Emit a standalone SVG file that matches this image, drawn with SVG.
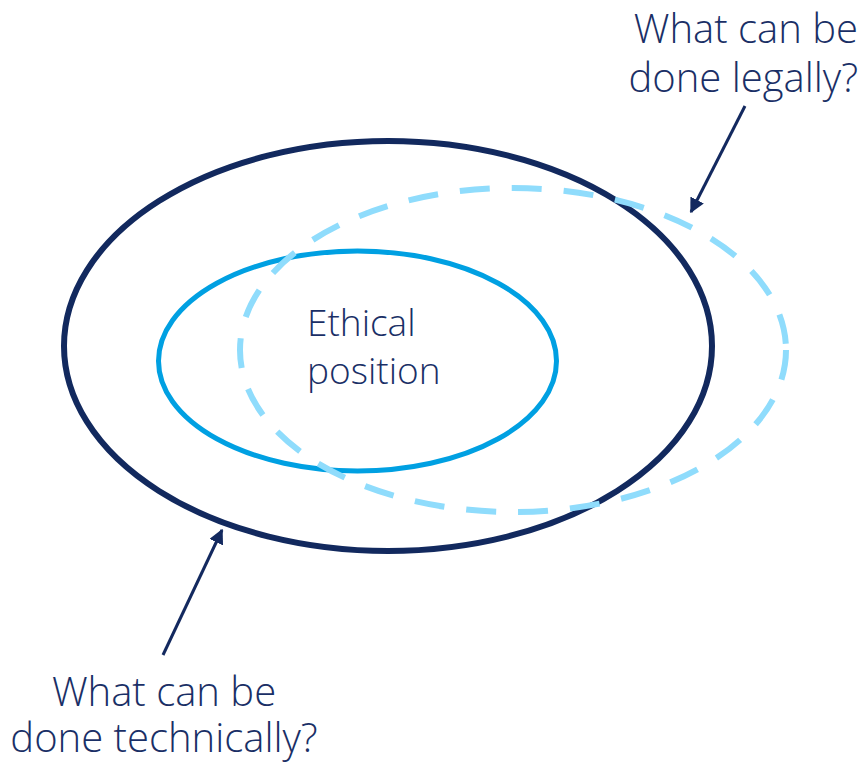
<svg xmlns="http://www.w3.org/2000/svg" width="865" height="763" viewBox="0 0 865 763">
<defs>
<style>
.t{font-family:"Open Sans","Noto Sans","Liberation Sans",sans-serif;font-weight:300;font-size:40px;fill:#1a2f66}
.e{font-size:37px}
.arrow{stroke:#13295f;stroke-width:3;fill:none}
</style>
<marker id="ah" viewBox="0 0 10 10" refX="9" refY="5" markerWidth="5" markerHeight="5" orient="auto" markerUnits="strokeWidth">
<path d="M0,0 L10,5 L0,10 z" fill="#13295f"/>
</marker>
</defs>
<rect width="865" height="763" fill="#ffffff"/>
<g id="technical"><ellipse cx="388" cy="346" rx="324" ry="205" fill="none" stroke="#12295e" stroke-width="6"/></g>
<g id="ethical"><ellipse cx="357.5" cy="361" rx="199" ry="110" fill="none" stroke="#00a0e2" stroke-width="5"/>
<text class="t e" x="307" y="336">Ethical</text>
<text class="t e" x="307" y="384">position</text></g>
<g id="legal"><ellipse cx="513" cy="350" rx="273" ry="162" fill="none" stroke="#8fdcfc" stroke-width="6" stroke-dasharray="30 22"/></g>
<g id="label-legal"><text class="t" x="858" y="43" text-anchor="end">What can be</text>
<text class="t" x="858" y="92" text-anchor="end">done legally?</text></g>
<g id="label-technical"><text class="t" x="164" y="706" text-anchor="middle">What can be</text>
<text class="t" x="164" y="752" text-anchor="middle">done technically?</text></g>
<g id="connectors">
<line class="arrow" x1="745" y1="106" x2="691" y2="212" marker-end="url(#ah)"/>
<line class="arrow" x1="163" y1="655" x2="222" y2="530" marker-end="url(#ah)"/>
</g>
</svg>
